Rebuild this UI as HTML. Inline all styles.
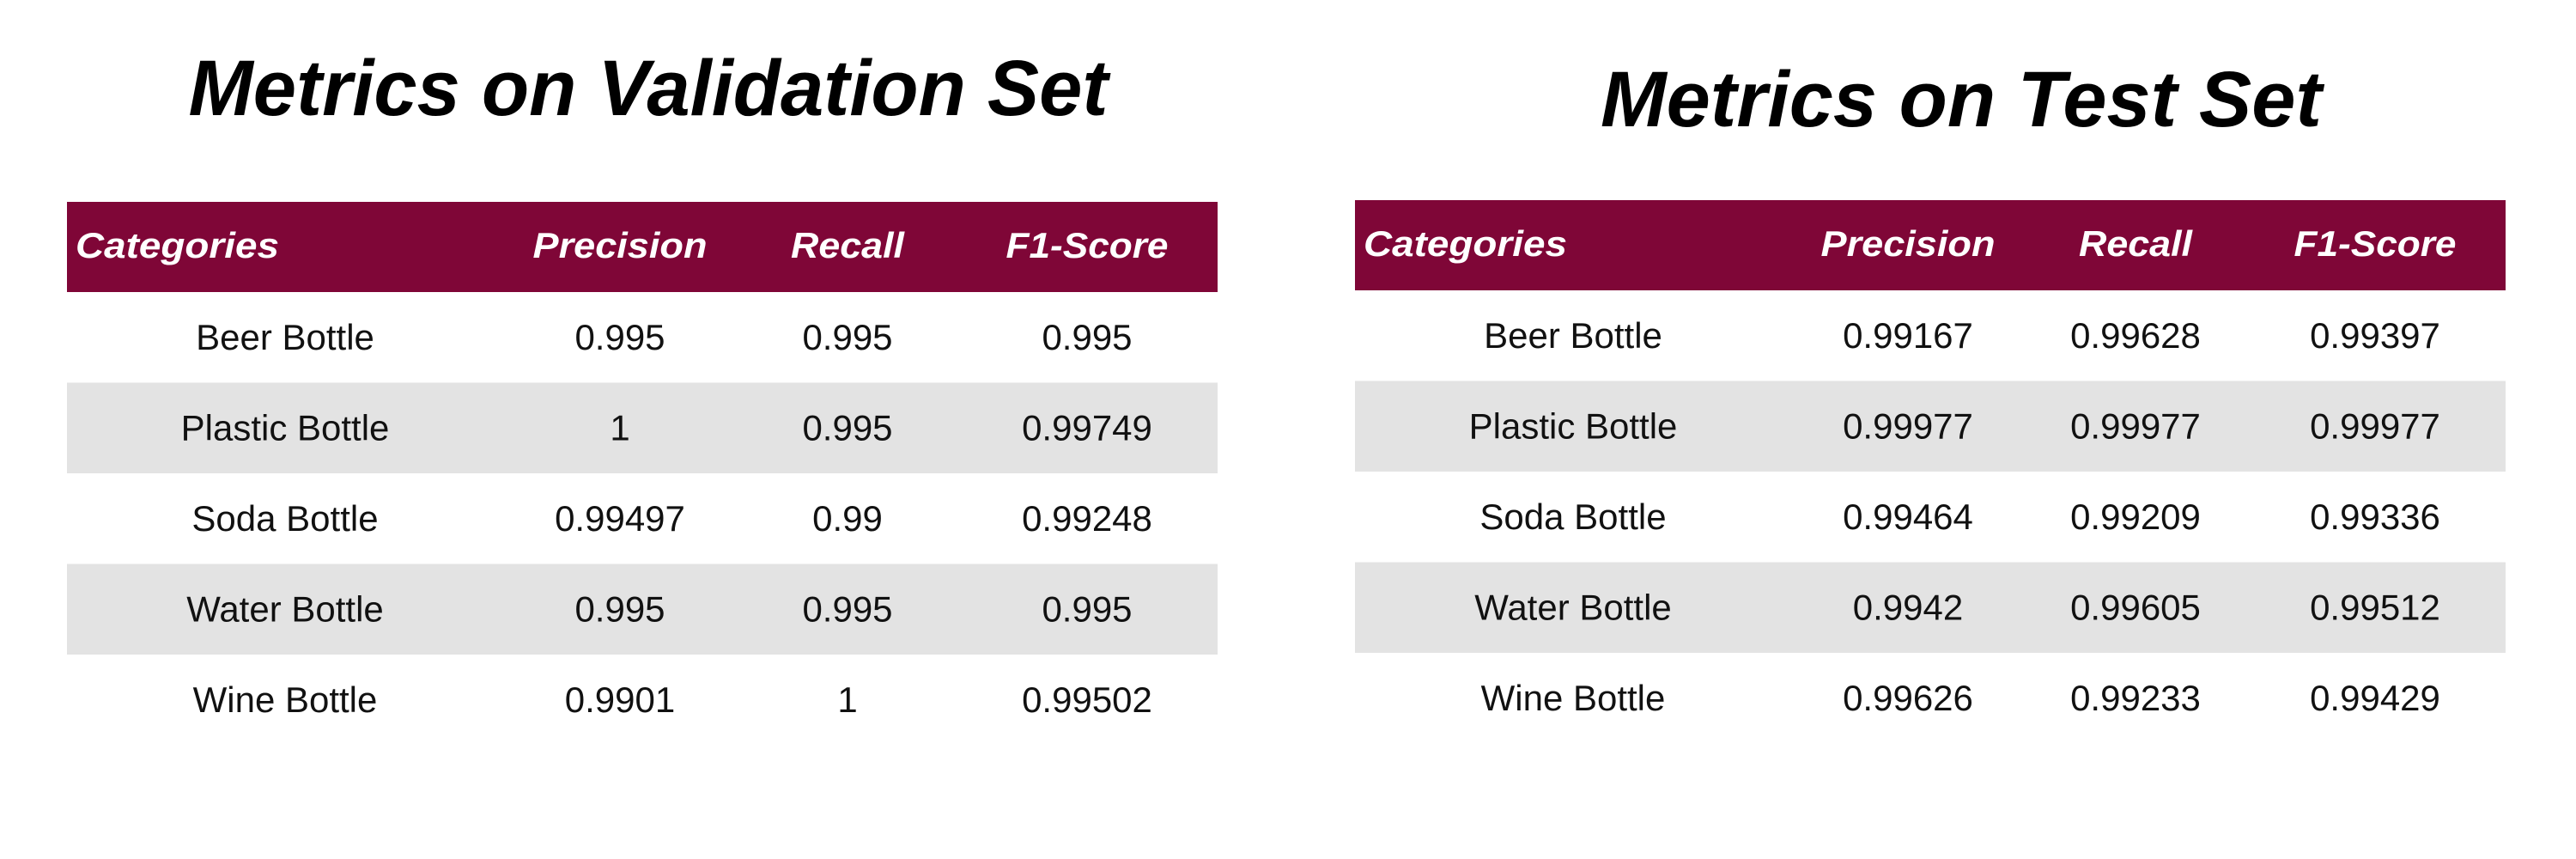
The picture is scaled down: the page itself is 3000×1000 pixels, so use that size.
<!DOCTYPE html>
<html><head><meta charset="utf-8"><style>
html,body{margin:0;padding:0;background:#fff;width:3000px;height:1000px;overflow:hidden}
svg{display:block}
</style></head><body>
<svg id="chart" width="3000" height="1000" xmlns="http://www.w3.org/2000/svg"></svg>
<script>
const categories = ["Beer Bottle","Plastic Bottle","Soda Bottle","Water Bottle","Wine Bottle"];
const columns = ["Categories","Precision","Recall","F1-Score"];
const valPrecision = ["0.995","1","0.99497","0.995","0.9901"];
const valRecall = ["0.995","0.995","0.99","0.995","1"];
const valF1 = ["0.995","0.99749","0.99248","0.995","0.99502"];
const testPrecision = ["0.99167","0.99977","0.99464","0.9942","0.99626"];
const testRecall = ["0.99628","0.99977","0.99209","0.99605","0.99233"];
const testF1 = ["0.99397","0.99977","0.99336","0.99512","0.99429"];

const NS = "http://www.w3.org/2000/svg";
const svg = document.getElementById("chart");
function mk(tag, attrs, parent){const e=document.createElementNS(NS,tag);for(const k in attrs)e.setAttribute(k,attrs[k]);(parent||svg).appendChild(e);return e;}

function drawTable(ox, hy, title, titleX, titleY, titleW, prec, rec, f1, key){
  const g = mk("g",{});
  
  
  const t = mk("text",{x:titleX,y:titleY,"text-anchor":"middle","font-family":"Liberation Sans, sans-serif","font-weight":"bold","font-style":"italic","font-size":"92",textLength:titleW,lengthAdjust:"spacingAndGlyphs",fill:"#000"},g);
  t.textContent = title;
  
  
  const W = 1340, hh = 105, rh = 105.5;
  const hdr = mk("rect",{x:ox,y:hy,width:W,height:hh,fill:"#7f0637"},g);
  
  
  const colX = [254,644,909,1188];
  const hdrW = [237,203,132,189];
  columns.forEach((c,i)=>{
    const x = i===0 ? ox+10 : ox+colX[i];
    const e = mk("text",{x:x,y:hy+65,"text-anchor":i===0?"start":"middle","font-family":"Liberation Sans, sans-serif","font-weight":"bold","font-style":"italic","font-size":"42",fill:"#fff",textLength:hdrW[i],lengthAdjust:"spacingAndGlyphs"},g);
    e.textContent = c;
    
    
  });
  categories.forEach((cat,r)=>{
    const y = hy+hh+r*rh;
    if(r%2===1){
      const bg = mk("rect",{x:ox,y:y,width:W,height:rh,fill:"#e3e3e3"},g);
      
      
    }
    const vals = [cat, prec[r], rec[r], f1[r]];
    vals.forEach((v,i)=>{
      const e = mk("text",{x:ox+colX[i],y:y+67,"text-anchor":"middle","font-family":"Liberation Sans, sans-serif","font-size":"42",fill:"#111"},g);
      e.textContent = v;
      
      
    });
  });
}
drawTable(78, 235, "Metrics on Validation Set", 755, 134, 1071, valPrecision, valRecall, valF1, "validation");
drawTable(1578, 233, "Metrics on Test Set", 2284, 147, 840, testPrecision, testRecall, testF1, "test");
</script>
</body></html>
